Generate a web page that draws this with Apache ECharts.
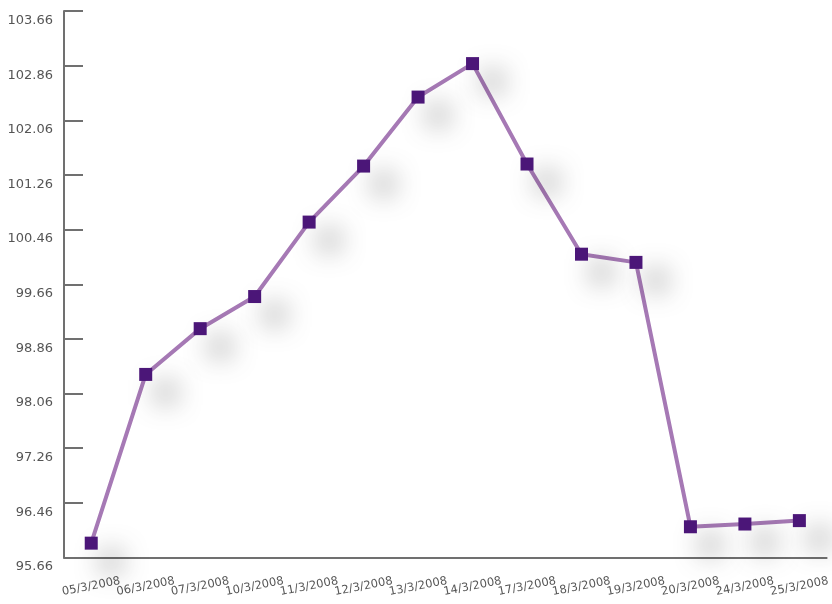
<!DOCTYPE html>
<html>
<head>
<meta charset="utf-8">
<script src="https://cdn.jsdelivr.net/npm/echarts@6/dist/echarts.min.js"></script>
<style>
  html, body { margin: 0; padding: 0; background: #fff; }
  #chart { width: 832px; height: 604px; }
</style>
</head>
<body>
<div id="chart"></div>
<script>
var dates = ['05/3/2008', '06/3/2008', '07/3/2008', '10/3/2008', '11/3/2008', '12/3/2008', '13/3/2008',
             '14/3/2008', '17/3/2008', '18/3/2008', '19/3/2008', '20/3/2008', '24/3/2008', '25/3/2008'];
var prices = [95.87, 98.34, 99.01, 99.48, 100.57, 101.39, 102.40,
              102.89, 101.42, 100.10, 99.98, 96.11, 96.15, 96.20];
var yMin = 95.66, yMax = 103.66, yStep = 0.8;

var myChart = echarts.init(document.getElementById('chart'));

var option = {
    animation: false,
    backgroundColor: '#fff',
    grid: { left: 64, top: 11, width: 774, height: 546.5 },
    xAxis: {
        type: 'category',
        data: dates,
        boundaryGap: true,
        axisLine: { lineStyle: { color: '#707070', width: 2 } },
        axisTick: { inside: true, length: 11, lineStyle: { color: '#707070', width: 2 } },
        axisLabel: {
            rotate: 11,
            align: 'center',
            verticalAlign: 'middle',
            margin: 29,
            color: '#555',
            fontFamily: 'DejaVu Sans',
            fontSize: 11.5,
            interval: 0
        }
    },
    yAxis: {
        type: 'value',
        min: yMin,
        max: yMax,
        interval: yStep,
        axisLine: { show: true, lineStyle: { color: '#707070', width: 2 } },
        axisTick: { show: true, inside: true, length: 19, lineStyle: { color: '#707070', width: 2 } },
        splitLine: { show: false },
        axisLabel: {
            margin: 11,
            color: '#555',
            fontFamily: 'DejaVu Sans',
            fontSize: 13,
            verticalAlign: 'top',
            padding: [3, 0, 0, 0],
            formatter: function (v) { return v.toFixed(2); }
        }
    },
    series: [{
        type: 'line',
        data: prices,
        symbol: 'rect',
        symbolSize: 13,
        lineStyle: { color: '#a679b5', width: 4 },
        itemStyle: {
            color: '#4b1678',
            shadowBlur: 28,
            shadowColor: 'rgba(0,0,0,0.75)',
            shadowOffsetX: 20,
            shadowOffsetY: 18
        }
    }]
};
myChart.setOption(option);
</script>
</body>
</html>
